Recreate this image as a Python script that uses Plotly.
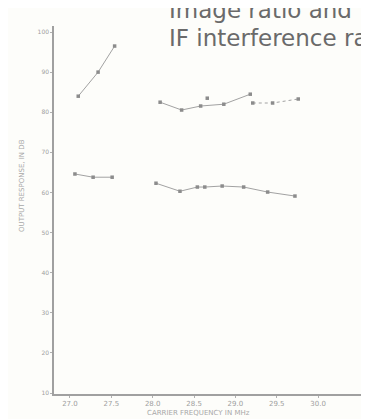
import plotly.graph_objects as go

# ---- data ----
img_low_freq = [27.06, 27.28, 27.51]
img_low_db = [64.6, 63.8, 63.8]

img_high_freq = [28.04, 28.33, 28.54, 28.63, 28.84, 29.10, 29.39, 29.72]
img_high_db = [62.3, 60.3, 61.35, 61.35, 61.6, 61.35, 60.1, 59.1]

if_low_freq = [27.10, 27.34, 27.54]
if_low_db = [84.0, 90.0, 96.5]

if_high_freq = [28.09, 28.35, 28.58, 28.86, 29.18]
if_high_db = [82.5, 80.55, 81.55, 82.0, 84.5]

if_dot_freq = [29.21, 29.45, 29.76]
if_dot_db = [82.3, 82.3, 83.3]

if_extra_freq = [28.66]
if_extra_db = [83.5]

x_tickvals = [27.0, 27.5, 28.0, 28.5, 29.0, 29.5, 30.0]
x_ticktext = ["27.0", "27.5", "28.0", "28.5", "29.0", "29.5", "30.0"]
y_tickvals = [10, 20, 30, 40, 50, 60, 70, 80, 90, 100]

title_line1 = "Image ratio and"
title_line2 = "IF interference ratio"
x_title = "CARRIER FREQUENCY IN MHz"
y_title = "OUTPUT RESPONSE, IN DB"

LINE = "#a2a2a2"
MARK = "#8c8c8c"

fig = go.Figure()

def add(xs, ys, dash="solid", mode="lines+markers"):
    fig.add_trace(go.Scatter(
        x=xs, y=ys, mode=mode,
        line=dict(color=LINE, width=1, dash=dash),
        marker=dict(color=MARK, size=3.5, symbol="square"),
        showlegend=False, hoverinfo="skip"))

add(img_low_freq, img_low_db)
add(img_high_freq, img_high_db)
add(if_low_freq, if_low_db)
add(if_high_freq, if_high_db)
add(if_dot_freq, if_dot_db, dash="dot")
add(if_extra_freq, if_extra_db, mode="markers")

W, H = 369, 419
L, R, T, B = 46, 0, 18, 33
pw, ph = W - L - R, H - T - B

def px(x):
    return (x - L) / pw

def py(y):
    return (H - B - y) / ph

fig.update_layout(
    width=W, height=H,
    margin=dict(l=L, r=R, t=T, b=B),
    paper_bgcolor="#fdfdfa", plot_bgcolor="#fdfdfa",
    xaxis=dict(range=[26.807, 30.712], tickvals=x_tickvals, ticktext=x_ticktext,
               showgrid=False, zeroline=False, showline=True, linecolor="#a0a0a0",
               linewidth=1.5, ticks="outside", ticklen=2, tickcolor="#b0b0b0",
               tickfont=dict(size=7, color="#a0a0a0", family="DejaVu Sans")),
    yaxis=dict(range=[9.75, 101.5], tickvals=y_tickvals,
               showgrid=False, zeroline=False, showline=True, linecolor="#a0a0a0",
               linewidth=1.5, ticks="outside", ticklen=2, tickcolor="#b0b0b0",
               tickfont=dict(size=6, color="#a0a0a0", family="DejaVu Sans")),
    font=dict(family="DejaVu Sans"),
)

fig.add_annotation(text=x_title, xref="paper", yref="paper", x=px(190), y=py(405),
                   showarrow=False, xanchor="center", yanchor="middle",
                   font=dict(size=7, color="#a8a8a8", family="DejaVu Sans"))
fig.add_annotation(text=y_title, xref="paper", yref="paper", x=px(14), y=py(178),
                   showarrow=False, xanchor="center", yanchor="middle", textangle=-90,
                   font=dict(size=7, color="#a8a8a8", family="DejaVu Sans"))
fig.add_annotation(text=title_line1, xref="paper", yref="paper", x=px(159), y=py(2),
                   showarrow=False, xanchor="left", yanchor="middle",
                   font=dict(size=23, color="#6a6a6a", family="DejaVu Sans"))
fig.add_annotation(text=title_line2, xref="paper", yref="paper", x=px(159), y=py(29.5),
                   showarrow=False, xanchor="left", yanchor="middle",
                   font=dict(size=23, color="#6a6a6a", family="DejaVu Sans"))

fig.write_html("out.html")
